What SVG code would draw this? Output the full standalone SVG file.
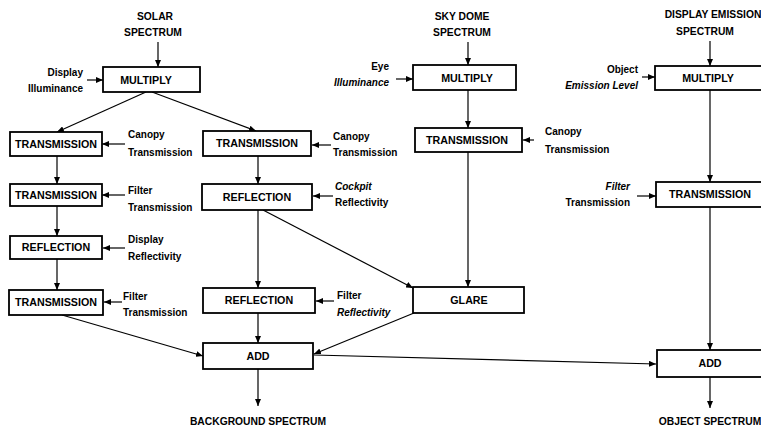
<svg xmlns="http://www.w3.org/2000/svg" width="761" height="429" viewBox="0 0 761 429">
<defs>
<marker id="ah" markerUnits="userSpaceOnUse" markerWidth="7" markerHeight="6" viewBox="0 0 7 6" refX="7" refY="3" orient="auto">
<path d="M0,0 L7,3 L0,6 Z" fill="#000"/>
</marker>
</defs>
<style>
.box{fill:#fff;stroke:#000;stroke-width:1.8}
.nl{font-family:"Liberation Sans",Arial,sans-serif;font-weight:bold;font-size:10.7px;text-anchor:middle;fill:#000}
.t{font-family:"Liberation Sans",Arial,sans-serif;font-weight:bold;font-size:10.3px;text-anchor:middle;fill:#000}
.s{font-family:"Liberation Sans",Arial,sans-serif;font-weight:bold;font-size:10px;fill:#000}
.r{text-anchor:end}
.i{font-style:italic}
.c{fill:none;stroke:#000;stroke-width:1.2;marker-end:url(#ah)}
</style>
<rect width="761" height="429" fill="#fff"/>

<g id="connectors">
<line class="c" x1="158" y1="42" x2="158" y2="67"/>
<line class="c" x1="87" y1="80" x2="103" y2="80"/>
<line class="c" x1="146" y1="92" x2="57" y2="132"/>
<line class="c" x1="152" y1="92" x2="256" y2="131"/>
<line class="c" x1="125" y1="144" x2="102" y2="144"/>
<line class="c" x1="57" y1="156" x2="57" y2="184"/>
<line class="c" x1="125" y1="195" x2="102" y2="195"/>
<line class="c" x1="57" y1="206" x2="57" y2="236"/>
<line class="c" x1="125" y1="248" x2="103" y2="248"/>
<line class="c" x1="57" y1="259" x2="57" y2="290"/>
<line class="c" x1="122" y1="302" x2="104" y2="302"/>
<line class="c" x1="62" y1="315" x2="203" y2="356"/>
<line class="c" x1="331" y1="145" x2="312" y2="145"/>
<line class="c" x1="258" y1="156" x2="258" y2="184"/>
<line class="c" x1="333" y1="196" x2="313" y2="196"/>
<line class="c" x1="258" y1="210" x2="258" y2="288"/>
<line class="c" x1="263" y1="210" x2="413" y2="288"/>
<line class="c" x1="334" y1="301" x2="316" y2="301"/>
<line class="c" x1="258" y1="313" x2="258" y2="343"/>
<line class="c" x1="414" y1="313" x2="314" y2="354"/>
<line class="c" x1="258" y1="369" x2="258" y2="406"/>
<line class="c" x1="314" y1="355" x2="656" y2="364"/>
<line class="c" x1="468" y1="42" x2="468" y2="65"/>
<line class="c" x1="396" y1="79" x2="413" y2="79"/>
<line class="c" x1="468" y1="90" x2="468" y2="128"/>
<line class="c" x1="534" y1="140" x2="523" y2="140"/>
<line class="c" x1="468" y1="152" x2="468" y2="287"/>
<line class="c" x1="710" y1="41" x2="710" y2="66"/>
<line class="c" x1="642" y1="77" x2="655" y2="77"/>
<line class="c" x1="710" y1="90" x2="710" y2="182"/>
<line class="c" x1="637" y1="196" x2="656" y2="196"/>
<line class="c" x1="710" y1="207" x2="710" y2="350"/>
<line class="c" x1="710" y1="377" x2="710" y2="408"/>
</g>

<g id="solar-spectrum">
<text class="t" x="155" y="20">SOLAR</text>
<text class="t" x="153" y="36">SPECTRUM</text>
</g>
<g id="display-illuminance">
<text class="s r" x="83" y="76">Display</text>
<text class="s r" x="83" y="92">Illuminance</text>
</g>
<g id="multiply-solar">
<rect class="box" x="103" y="67" width="97" height="25"/>
<text class="nl" x="146" y="83.5">MULTIPLY</text>
</g>

<g id="transmission-l1">
<rect class="box" x="10" y="132" width="92" height="24"/>
<text class="nl" x="56" y="147.8">TRANSMISSION</text>
</g>
<g id="label-l1">
<text class="s" x="128" y="137.5">Canopy</text>
<text class="s" x="128" y="155.5">Transmission</text>
</g>
<g id="transmission-l2">
<rect class="box" x="10" y="184" width="92" height="22"/>
<text class="nl" x="56" y="198.8">TRANSMISSION</text>
</g>
<g id="label-l2">
<text class="s" x="128" y="194">Filter</text>
<text class="s" x="128" y="211">Transmission</text>
</g>
<g id="reflection-l">
<rect class="box" x="10" y="236" width="92" height="23"/>
<text class="nl" x="56" y="251.3">REFLECTION</text>
</g>
<g id="label-l3">
<text class="s" x="128" y="243">Display</text>
<text class="s" x="128" y="260">Reflectivity</text>
</g>
<g id="transmission-l3">
<rect class="box" x="9" y="290" width="94" height="25"/>
<text class="nl" x="56" y="306.3">TRANSMISSION</text>
</g>
<g id="label-l4">
<text class="s" x="123" y="300">Filter</text>
<text class="s" x="123" y="316">Transmission</text>
</g>

<g id="transmission-m">
<rect class="box" x="203" y="131" width="108" height="25"/>
<text class="nl" x="257" y="147.3">TRANSMISSION</text>
</g>
<g id="label-m1">
<text class="s" x="333" y="140">Canopy</text>
<text class="s" x="333" y="156">Transmission</text>
</g>
<g id="reflection-m">
<rect class="box" x="202" y="184" width="110" height="26"/>
<text class="nl" x="257" y="200.8">REFLECTION</text>
</g>
<g id="label-m2">
<text class="s i" x="335" y="190">Cockpit</text>
<text class="s" x="335" y="206">Reflectivity</text>
</g>
<g id="reflection-m2">
<rect class="box" x="203" y="288" width="112" height="25"/>
<text class="nl" x="259" y="304.3">REFLECTION</text>
</g>
<g id="label-m3">
<text class="s" x="337" y="299">Filter</text>
<text class="s i" x="337" y="316">Reflectivity</text>
</g>
<g id="add-bg">
<rect class="box" x="203" y="343" width="110" height="26"/>
<text class="nl" x="258" y="359.8">ADD</text>
</g>
<g id="background-spectrum">
<text class="t" x="258" y="425">BACKGROUND SPECTRUM</text>
</g>

<g id="sky-dome-spectrum">
<text class="t" x="462" y="20">SKY DOME</text>
<text class="t" x="462" y="36">SPECTRUM</text>
</g>
<g id="eye-illuminance">
<text class="s r" x="389" y="70">Eye</text>
<text class="s r i" x="389" y="86">Illuminance</text>
</g>
<g id="multiply-sky">
<rect class="box" x="413" y="65" width="103" height="25"/>
<text class="nl" x="467" y="81.5">MULTIPLY</text>
</g>
<g id="transmission-sky">
<rect class="box" x="415" y="128" width="107" height="24"/>
<text class="nl" x="467" y="143.8">TRANSMISSION</text>
</g>
<g id="label-sky">
<text class="s" x="545" y="135">Canopy</text>
<text class="s" x="545" y="153">Transmission</text>
</g>
<g id="glare">
<rect class="box" x="413" y="287" width="111" height="26"/>
<text class="nl" x="469" y="303.8">GLARE</text>
</g>

<g id="display-emission-spectrum">
<text class="t" x="713" y="18">DISPLAY EMISSION</text>
<text class="t" x="705" y="35">SPECTRUM</text>
</g>
<g id="object-emission-level">
<text class="s r" x="638" y="73">Object</text>
<text class="s r i" x="638" y="89">Emission Level</text>
</g>
<g id="multiply-obj">
<rect class="box" x="655" y="66" width="115" height="24"/>
<text class="nl" x="708" y="81.8">MULTIPLY</text>
</g>
<g id="transmission-obj">
<rect class="box" x="656" y="182" width="114" height="25"/>
<text class="nl" x="710" y="198.3">TRANSMISSION</text>
</g>
<g id="label-obj">
<text class="s r i" x="630" y="190">Filter</text>
<text class="s r" x="630" y="206">Transmission</text>
</g>
<g id="add-obj">
<rect class="box" x="657" y="350" width="113" height="27"/>
<text class="nl" x="710" y="367.3">ADD</text>
</g>
<g id="object-spectrum">
<text class="t" x="710" y="425">OBJECT SPECTRUM</text>
</g>
</svg>
